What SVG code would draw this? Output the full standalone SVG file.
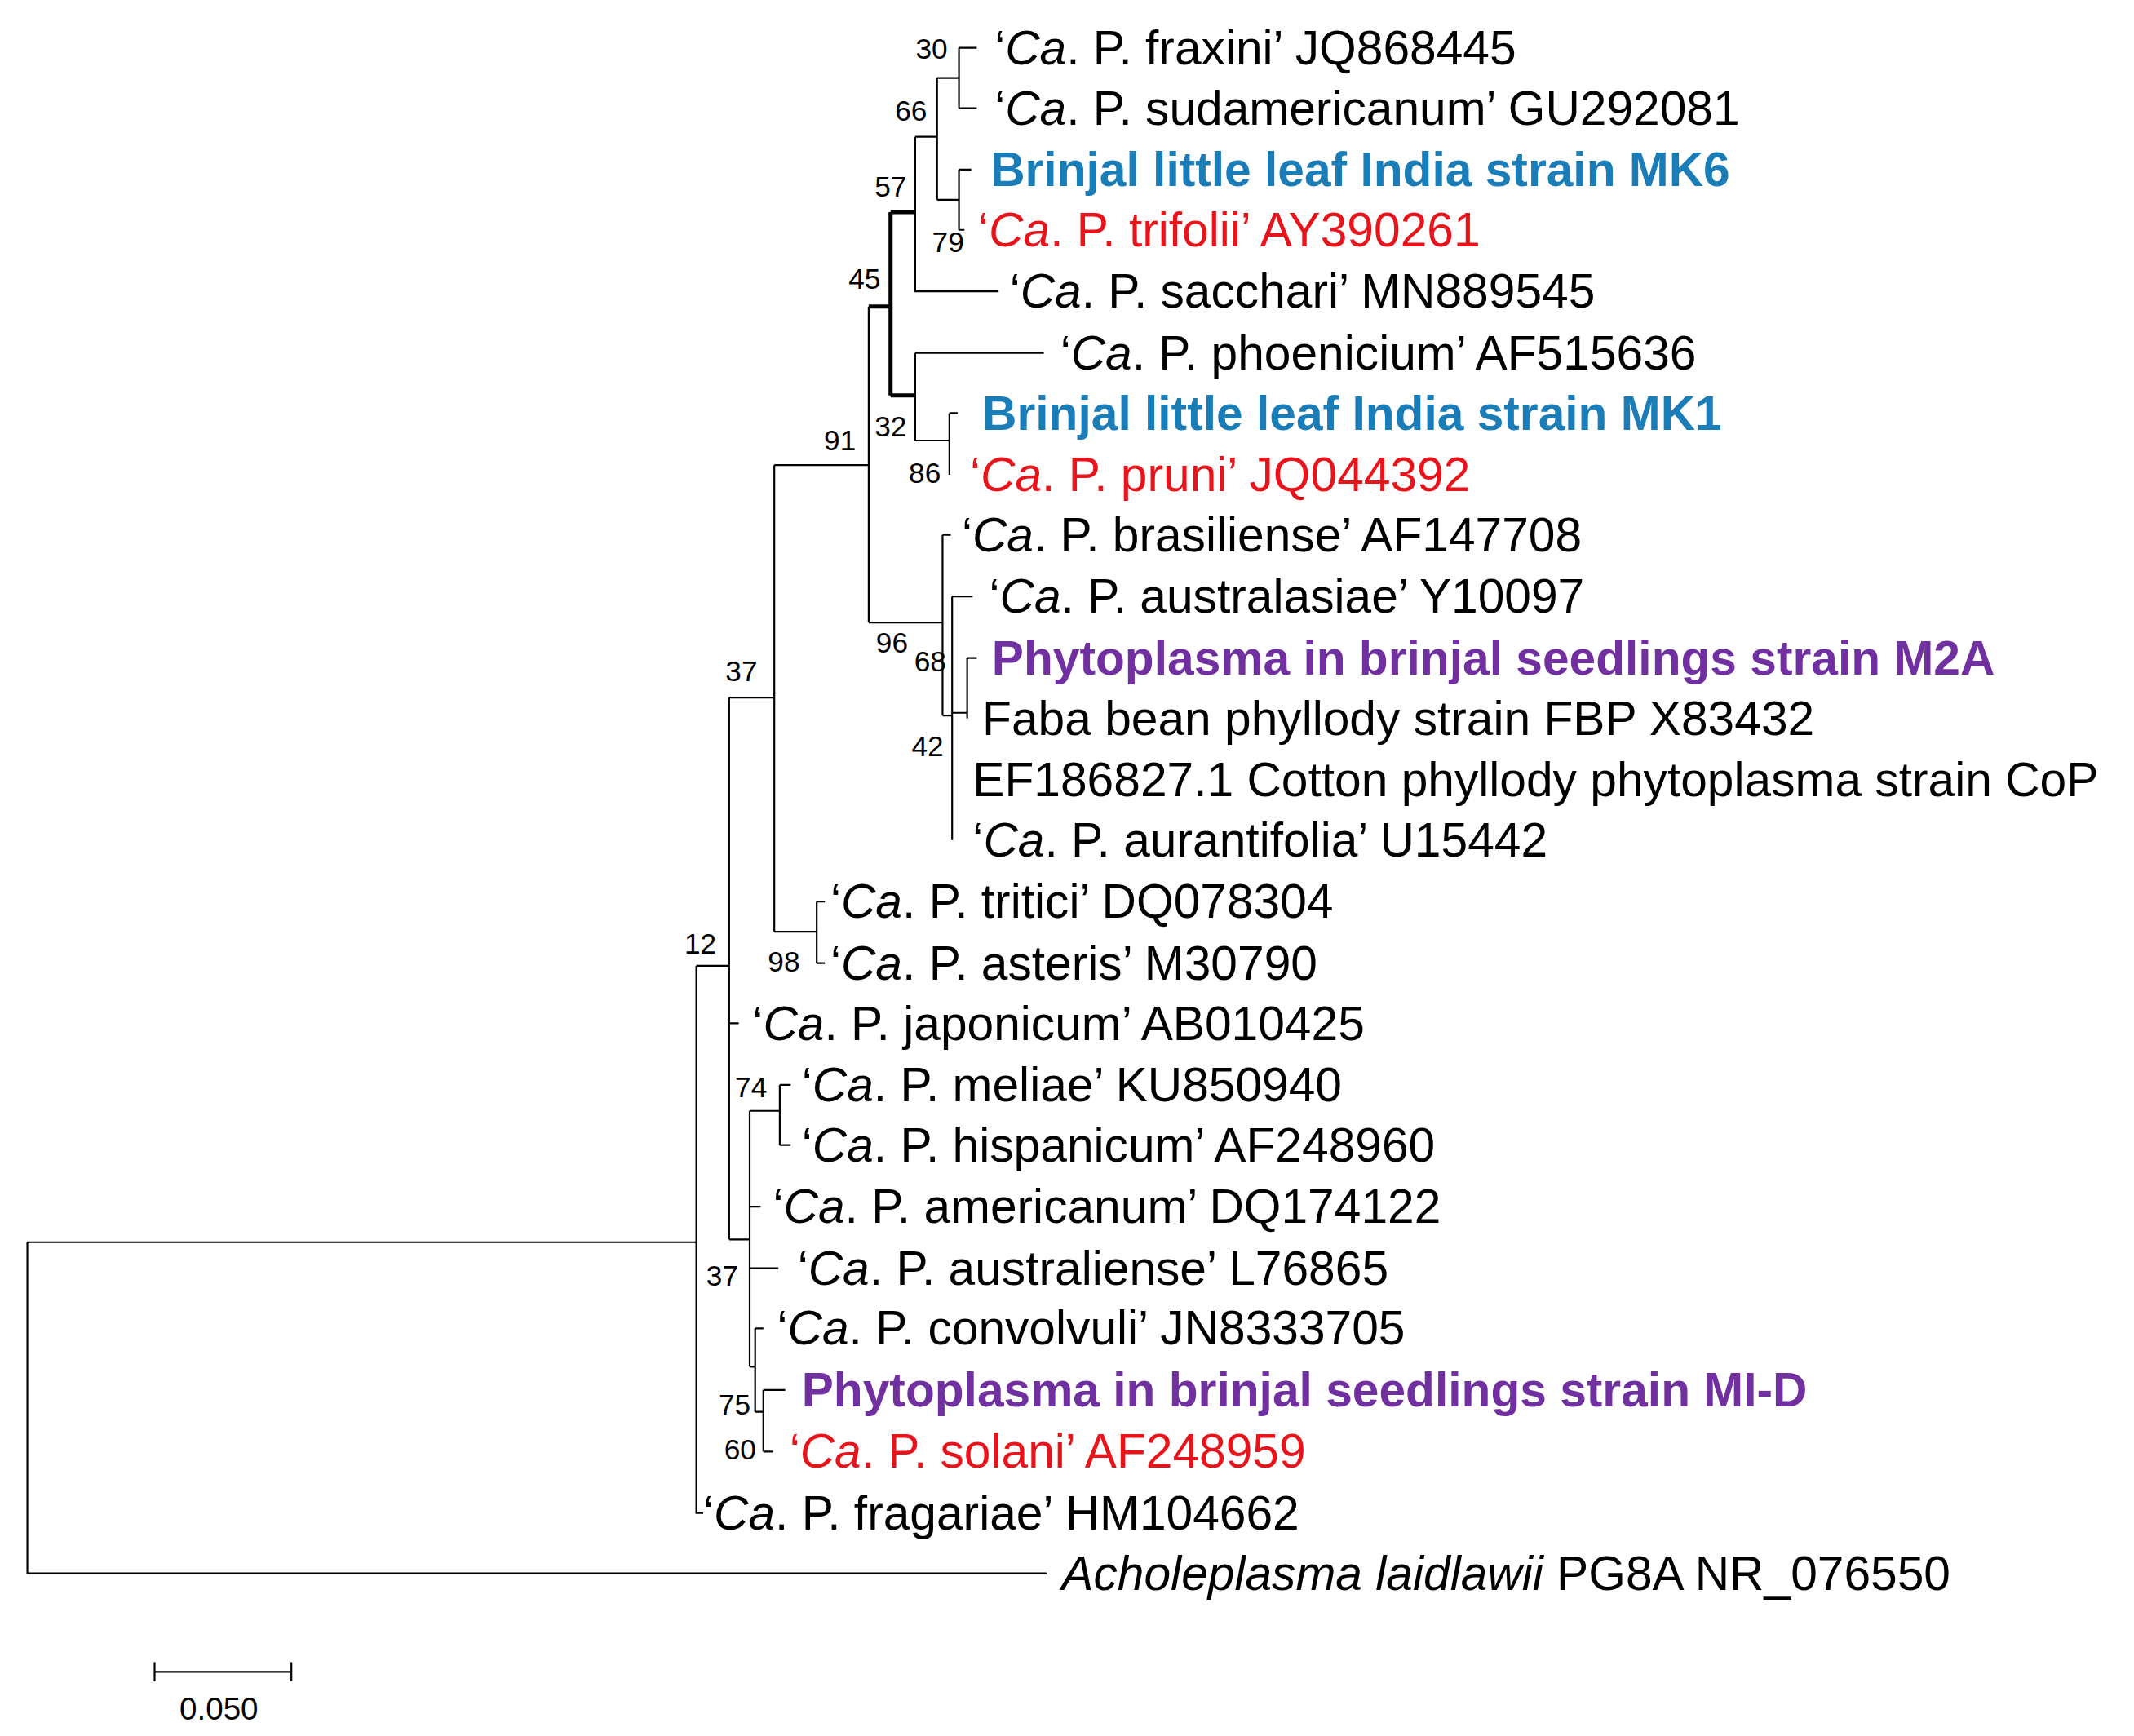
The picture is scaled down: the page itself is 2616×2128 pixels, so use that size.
<svg xmlns="http://www.w3.org/2000/svg" width="2616" height="2128" viewBox="0 0 2616 2128">
<style>
.e{stroke:#000;stroke-width:1.3;fill:none}
.t{stroke:#000;stroke-width:3;fill:none}
.l{font-family:"Liberation Sans",Arial,sans-serif;font-size:35px;fill:#000}
.b{font-family:"Liberation Sans",Arial,sans-serif;font-size:35px;font-weight:bold}
.blue{fill:#1B7DB8}.red{fill:#E8141B}.pur{fill:#7030A0}
.n{font-family:"Liberation Sans",Arial,sans-serif;font-size:21px;fill:#000;text-anchor:middle}
</style>
<rect width="2616" height="2128" fill="#fff"/>
<g transform="scale(1.677)">
<g id="connectors">
<path class="e" d="M20 908V1150H765M20 908H509M509 706V1106H514M509 706H533M533 510V906M533 748H540M533 906H548M548 812V999M548 882H556M548 927H569M548 812H570M570 793V837M570 793H578M570 837H578M548 999H552M552 971V1032M552 971H558M552 1032H558M558 1016V1061M558 1016H574M558 1061H565"/>
<path class="e" d="M533 510H566M566 340V681M566 681H597M597 659V704M597 659H603M597 704H603M566 340H635M635 224V455"/>
<path class="t" d="M635 224H651M651 155V289M651 155H669M651 289H669"/>
<path class="e" d="M669 100V213H730M669 100H685M685 57V146M685 57H701M701 35V79M701 35H714M701 79H714M685 146H701M701 124V168M701 124H710M701 168H705"/>
<path class="e" d="M669 258V322M669 258H763M669 322H694M694 302V347M694 302H700"/>
<path class="e" d="M635 455H689M689 391V523M689 391H695M689 523H696M696 436V614M696 436H711M696 521H707M707 481V525M707 481H714"/>
<path class="e" d="M113 1222H213M113 1215V1229M213 1215V1229"/>
</g>
<g id="labels">
<text class="l" x="727" y="47">‘<tspan font-style="italic">Ca</tspan>. P. fraxini’ JQ868445</text>
<text class="l" x="727" y="91">‘<tspan font-style="italic">Ca</tspan>. P. sudamericanum’ GU292081</text>
<text class="b blue" x="724" y="136">Brinjal little leaf India strain MK6</text>
<text class="l red" x="715" y="180">‘<tspan font-style="italic">Ca</tspan>. P. trifolii’ AY390261</text>
<text class="l" x="738" y="225">‘<tspan font-style="italic">Ca</tspan>. P. sacchari’ MN889545</text>
<text class="l" x="775" y="270">‘<tspan font-style="italic">Ca</tspan>. P. phoenicium’ AF515636</text>
<text class="b blue" x="718" y="314">Brinjal little leaf India strain MK1</text>
<text class="l red" x="709" y="359">‘<tspan font-style="italic">Ca</tspan>. P. pruni’ JQ044392</text>
<text class="l" x="703" y="403">‘<tspan font-style="italic">Ca</tspan>. P. brasiliense’ AF147708</text>
<text class="l" x="723" y="448">‘<tspan font-style="italic">Ca</tspan>. P. australasiae’ Y10097</text>
<text class="b pur" x="725" y="493">Phytoplasma in brinjal seedlings strain M2A</text>
<text class="l" x="718" y="537">Faba bean phyllody strain FBP X83432</text>
<text class="l" x="711" y="582">EF186827.1 Cotton phyllody phytoplasma strain CoP</text>
<text class="l" x="711" y="626">‘<tspan font-style="italic">Ca</tspan>. P. aurantifolia’ U15442</text>
<text class="l" x="607" y="671">‘<tspan font-style="italic">Ca</tspan>. P. tritici’ DQ078304</text>
<text class="l" x="607" y="716">‘<tspan font-style="italic">Ca</tspan>. P. asteris’ M30790</text>
<text class="l" x="550" y="760">‘<tspan font-style="italic">Ca</tspan>. P. japonicum’ AB010425</text>
<text class="l" x="586" y="805">‘<tspan font-style="italic">Ca</tspan>. P. meliae’ KU850940</text>
<text class="l" x="586" y="849">‘<tspan font-style="italic">Ca</tspan>. P. hispanicum’ AF248960</text>
<text class="l" x="565" y="894">‘<tspan font-style="italic">Ca</tspan>. P. americanum’ DQ174122</text>
<text class="l" x="583" y="939">‘<tspan font-style="italic">Ca</tspan>. P. australiense’ L76865</text>
<text class="l" x="568" y="983">‘<tspan font-style="italic">Ca</tspan>. P. convolvuli’ JN8333705</text>
<text class="b pur" x="586" y="1028">Phytoplasma in brinjal seedlings strain MI-D</text>
<text class="l red" x="577" y="1073">‘<tspan font-style="italic">Ca</tspan>. P. solani’ AF248959</text>
<text class="l" x="514" y="1118">‘<tspan font-style="italic">Ca</tspan>. P. fragariae’ HM104662</text>
<text class="l" x="776" y="1162"><tspan font-style="italic">Acholeplasma laidlawii</tspan> PG8A NR_076550</text>
</g>
<g id="bootstrap">
<text class="n" x="681" y="43">30</text>
<text class="n" x="666" y="88">66</text>
<text class="n" x="651" y="144">57</text>
<text class="n" x="693" y="184">79</text>
<text class="n" x="632" y="211">45</text>
<text class="n" x="614" y="329">91</text>
<text class="n" x="651" y="319">32</text>
<text class="n" x="676" y="353">86</text>
<text class="n" x="652" y="477">96</text>
<text class="n" x="680" y="491">68</text>
<text class="n" x="678" y="553">42</text>
<text class="n" x="542" y="498">37</text>
<text class="n" x="512" y="697">12</text>
<text class="n" x="573" y="710">98</text>
<text class="n" x="549" y="802">74</text>
<text class="n" x="528" y="940">37</text>
<text class="n" x="537" y="1034">75</text>
<text class="n" x="541" y="1067">60</text>
<text class="n" x="160" y="1257" style="font-size:23px">0.050</text>
</g>
</g>
</svg>
